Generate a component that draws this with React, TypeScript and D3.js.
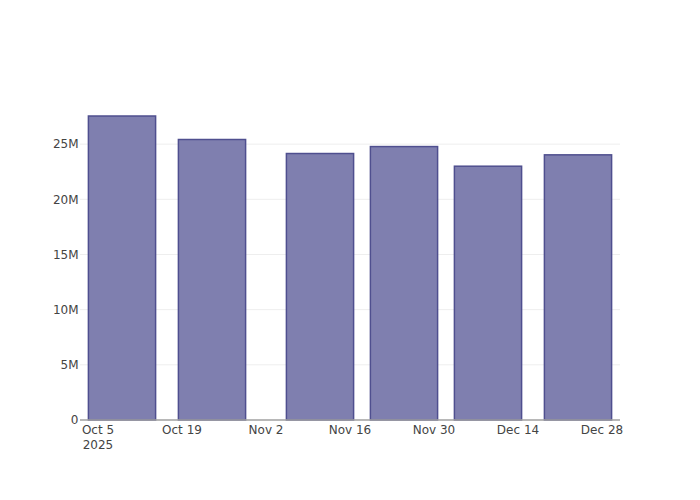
import React from "react";
import * as d3 from "d3";

const barDates = ["2025-10-09", "2025-10-24", "2025-11-11", "2025-11-25", "2025-12-09", "2025-12-24"];
const barValues = [27.55e6, 25.42e6, 24.15e6, 24.78e6, 23.0e6, 24.03e6];
const xTickDates = ["2025-10-05", "2025-10-19", "2025-11-02", "2025-11-16", "2025-11-30", "2025-12-14", "2025-12-28"];
const yTicks = [0, 5e6, 10e6, 15e6, 20e6, 25e6];
const xDomain = ["2025-10-02", "2025-12-31"];
const yDomain = [0, 29e6];

const W = 700;
const H = 500;
const M = { l: 80, r: 80, t: 100, b: 80 };
const DAY = 86400000;

const parse = (s: string) => new Date(s + "T00:00:00Z");

export default function App() {
  const x = d3
    .scaleUtc()
    .domain(xDomain.map(parse))
    .range([M.l, W - M.r]);
  const y = d3
    .scaleLinear()
    .domain(yDomain)
    .range([H - M.b, M.t]);

  const barW = x(new Date(parse(xDomain[0]).getTime() + 14 * DAY * 0.8)) - x(parse(xDomain[0]));
  const fmtY = (v: number) => (v === 0 ? "0" : `${d3.format("d")(v / 1e6)}M`);
  const fmtX = d3.utcFormat("%b %-d");
  const font = `"DejaVu Sans", verdana, arial, sans-serif`;

  return (
    <>
      <style>{`body{margin:0;}`}</style>
      <svg width={W} height={H} style={{ display: "block", background: "#fff" }}>
        <g>
          {yTicks
            .filter((t) => t > 0)
            .map((t) => (
              <line key={t} x1={M.l} x2={W - M.r} y1={y(t)} y2={y(t)} stroke="#eeeeee" strokeWidth={1} />
            ))}
        </g>
        <g>
          {barDates.map((d, i) => {
            const cx = x(parse(d));
            return (
              <rect
                key={d}
                x={cx - barW / 2}
                y={y(barValues[i])}
                width={barW}
                height={y(0) - y(barValues[i])}
                fill="#7f7faf"
                stroke="#4f4f8f"
                strokeWidth={1.5}
              />
            );
          })}
        </g>
        <line x1={M.l} x2={W - M.r} y1={y(0)} y2={y(0)} stroke="#a0a0a0" strokeWidth={1.5} />
        <g fontFamily={font} fontSize={12} fill="#444">
          {yTicks.map((t) => (
            <text key={t} x={M.l - 1.5} y={y(t)} dy="0.35em" textAnchor="end">
              {fmtY(t)}
            </text>
          ))}
          {xTickDates.map((d, i) => {
            const tx = x(parse(d));
            return (
              <g key={d}>
                <text x={tx} y={433.5} textAnchor="middle">
                  {fmtX(parse(d))}
                </text>
                {i === 0 && (
                  <text x={tx} y={449} textAnchor="middle">
                    {d3.utcFormat("%Y")(parse(d))}
                  </text>
                )}
              </g>
            );
          })}
        </g>
      </svg>
    </>
  );
}
